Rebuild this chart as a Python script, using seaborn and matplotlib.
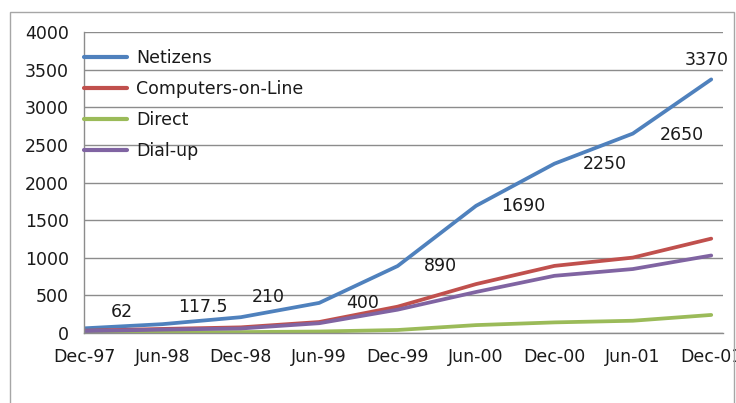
import matplotlib
matplotlib.use("Agg")
import matplotlib.pyplot as plt
import seaborn as sns
import pandas as pd
from matplotlib.patches import Rectangle

periods = ["Dec-97", "Jun-98", "Dec-98", "Jun-99", "Dec-99", "Jun-00", "Dec-00", "Jun-01", "Dec-01"]
netizens = [62, 117.5, 210, 400, 890, 1690, 2250, 2650, 3370]
computers_online = [30, 54, 75, 146, 350, 650, 892, 1002, 1254]
direct = [5, 8, 12, 20, 40, 105, 141, 163, 240]
dial_up = [25, 45, 60, 130, 310, 545, 760, 850, 1030]

series_names = ["Netizens", "Computers-on-Line", "Direct", "Dial-up"]
series_values = [netizens, computers_online, direct, dial_up]
colors = ["#4F81BD", "#C0504D", "#9BBB59", "#8064A2"]

rows = []
for name, vals in zip(series_names, series_values):
    for i, v in enumerate(vals):
        rows.append({"idx": i, "value": v, "series": name})
df = pd.DataFrame(rows)

sns.set_theme(style="white")
plt.rcParams["font.family"] = ["DejaVu Sans"]

FS = 12.5
fig = plt.figure(figsize=(7.36, 4.03), dpi=100)
ax = fig.add_axes([84 / 736, 1 - 333 / 403, (723 - 84) / 736, (333 - 32) / 403])

# outer chart frame
fig.patches.append(Rectangle((10 / 736, -0.05), (734 - 10) / 736, 1 - 12 / 403 + 0.05,
                             transform=fig.transFigure, fill=False,
                             edgecolor="#A6A6A6", linewidth=1.0))

sns.lineplot(data=df, x="idx", y="value", hue="series", hue_order=series_names,
             palette=colors, linewidth=2.7, ax=ax, legend=True, solid_capstyle="round")

ax.set_xlim(0, 8.15)
ax.set_ylim(0, 4000)
ax.set_yticks(range(0, 4001, 500))
ax.set_xticks(range(len(periods)))
ax.set_xticklabels(periods)
ax.set_xlabel("")
ax.set_ylabel("")
ax.yaxis.grid(True, color="#8C8C8C", linewidth=1.0)
ax.set_axisbelow(True)
for s in ["top", "right"]:
    ax.spines[s].set_visible(False)
for s in ["left", "bottom"]:
    ax.spines[s].set_color("#8C8C8C")
    ax.spines[s].set_linewidth(1.0)
ax.tick_params(axis="both", which="both", direction="out", length=6, width=1.0,
               color="#8C8C8C", labelsize=FS, labelcolor="#1a1a1a", pad=5)
ax.tick_params(axis="x", pad=5)

# data labels for Netizens
offsets_px = [(38, 16), (40, 17), (27, 20), (43, 0), (43, 0), (47, 0), (50, 0), (49, -1), (-5, 19)]
for i, (v, (dx, dy)) in enumerate(zip(netizens, offsets_px)):
    label = f"{v:g}"
    ax.annotate(label, xy=(i, v), xytext=(dx * 0.72, dy * 0.72), textcoords="offset points",
                ha="center", va="center", fontsize=FS, color="#1a1a1a")

leg = ax.legend(loc="upper left", bbox_to_anchor=(0.0, 0.943), frameon=False,
                fontsize=FS, handlelength=2.5, handletextpad=0.52,
                labelspacing=0.74, borderpad=0, borderaxespad=0)
for line in leg.get_lines():
    line.set_linewidth(3.0)
for t in leg.get_texts():
    t.set_color("#1a1a1a")

fig.savefig("out.png", dpi=100)
